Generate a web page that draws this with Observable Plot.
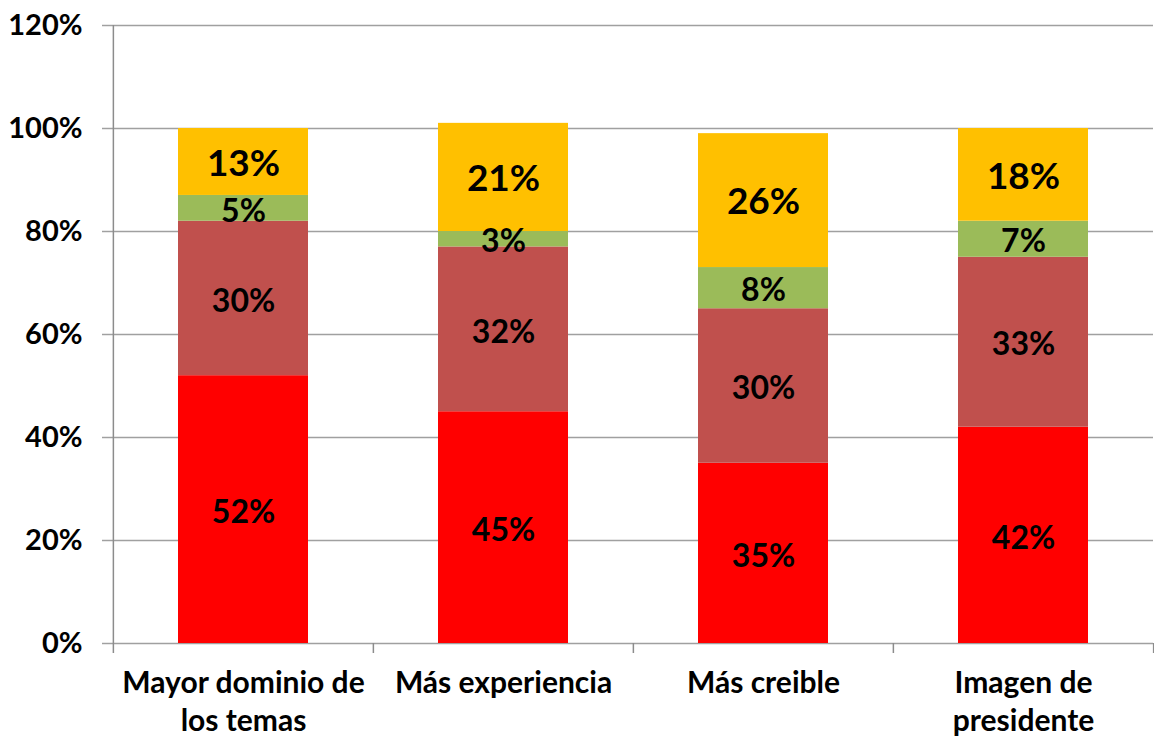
<!DOCTYPE html>
<html>
<head>
<meta charset="utf-8">
<script src="https://cdn.jsdelivr.net/npm/d3@7"></script>
<script src="https://cdn.jsdelivr.net/npm/@observablehq/plot@0.6"></script>
<style>
  html, body { margin: 0; padding: 0; background: #fff; }
  #chart svg { display: block; }
</style>
</head>
<body>
<div id="chart"></div>
<script>
const categories = ["Mayor dominio de los temas", "Más experiencia", "Más creible", "Imagen de presidente"];
const tickLabels = ["Mayor dominio de\nlos temas", "Más experiencia", "Más creible", "Imagen de\npresidente"];
const series = ["s1", "s2", "s3", "s4"];
const s1 = [52, 45, 35, 42];
const s2 = [30, 32, 30, 33];
const s3 = [5, 3, 8, 7];
const s4 = [13, 21, 26, 18];
const seriesColors = ["#FF0000", "#C0504D", "#9BBB59", "#FFC000"];
const yTicks = [0, 20, 40, 60, 80, 100, 120];

const values = [s1, s2, s3, s4];
const data = [];
series.forEach((s, si) => categories.forEach((c, ci) => data.push({category: c, series: s, value: values[si][ci]})));

const W = 1154, H = 740, mL = 112, mR = 1, mT = 25, mB = 97;
const step = (W - mL - mR) / categories.length;
const font = "Lato, 'DejaVu Sans', sans-serif";
const gridColor = "#A0A0A0";
const axisColor = "#8C8C8C";

const chart = Plot.plot({
  width: W,
  height: H,
  marginLeft: mL,
  marginRight: mR,
  marginTop: mT,
  marginBottom: mB,
  style: {fontFamily: font, fontWeight: "bold", color: "#000", background: "#fff", overflow: "visible"},
  x: {domain: categories, paddingInner: 0.5, paddingOuter: 0.25, label: null},
  y: {domain: [0, 120], label: null},
  color: {domain: series, range: seriesColors},
  marks: [
    Plot.gridY(yTicks, {stroke: gridColor, strokeOpacity: 1, strokeWidth: 1.5}),
    Plot.axisY(yTicks, {tickSize: 10, tickPadding: 20, stroke: gridColor, strokeWidth: 1.5, strokeOpacity: 1, fontSize: 29, fontWeight: "bold", tickFormat: d => d + "%"}),
    Plot.barY(data, {x: "category", y: "value", fill: "series", order: series}),
    Plot.ruleX([categories[0]], {dx: -step / 2, stroke: axisColor, strokeWidth: 1.5}),
    Plot.ruleX(categories, {x: d => d, y1: 0, y2: 0, insetBottom: -10, dx: -step / 2, stroke: axisColor, strokeWidth: 1.5}),
    Plot.ruleX([categories[categories.length - 1]], {x: d => d, y1: 0, y2: 0, insetBottom: -10, dx: step / 2, stroke: axisColor, strokeWidth: 1.5}),
    Plot.axisX({tickSize: 0, tickPadding: 23, fontSize: 30, fontWeight: "bold", lineHeight: 1.26, tickFormat: d => tickLabels[categories.indexOf(d)]}),
    Plot.text(data, Plot.stackY({x: "category", y: "value", z: "series", order: series, text: d => d.series === "s4" ? "" : d.value + "%", fontSize: 32, fontWeight: "bold", fill: "#000", dy: 3})),
    Plot.text(data, Plot.stackY({x: "category", y: "value", z: "series", order: series, text: d => d.series === "s4" ? d.value + "%" : "", fontSize: 37, fontWeight: "bold", fill: "#000", dy: 2}))
  ]
});
document.getElementById("chart").appendChild(chart);
</script>
</body>
</html>
